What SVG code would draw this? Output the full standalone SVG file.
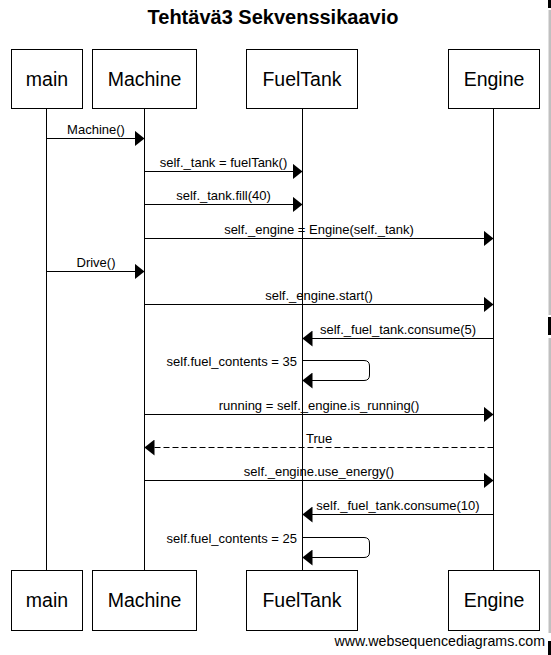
<svg xmlns="http://www.w3.org/2000/svg" width="551" height="655" viewBox="0 0 551 655">
<style>
.box{fill:#fff;stroke:#000;stroke-width:1}
.life{stroke:#000;stroke-width:1}
.plabel{font-family:"Liberation Sans",Arial,sans-serif;font-size:19.5px;text-anchor:middle;fill:#000}
.msg{stroke:#000;stroke-width:1;fill:none;marker-end:url(#ah)}
.dash{stroke-dasharray:6,3}
.mtext{font-family:"Liberation Sans",Arial,sans-serif;font-size:13px;fill:#000;text-anchor:middle}
.title{font-family:"Liberation Sans",Arial,sans-serif;font-size:20px;font-weight:bold;text-anchor:middle;fill:#000}
.foot{font-family:"Liberation Sans",Arial,sans-serif;font-size:14.2px;text-anchor:end;fill:#000}
</style>
<defs>
<marker id="ah" viewBox="0 0 10 16" refX="10" refY="8" markerWidth="10" markerHeight="16" orient="auto" markerUnits="userSpaceOnUse">
<path d="M0,0 L10,8 L0,16 Z" fill="#000"/>
</marker>
</defs>
<rect x="0" y="0" width="551" height="655" fill="#fff"/>
<text class="title" x="273" y="23.5">Tehtävä3 Sekvenssikaavio</text>

<g id="lifelines">
<line class="life" x1="46.5" y1="108.5" x2="46.5" y2="570.5"/>
<line class="life" x1="144.5" y1="108.5" x2="144.5" y2="570.5"/>
<line class="life" x1="302.5" y1="108.5" x2="302.5" y2="570.5"/>
<line class="life" x1="493.5" y1="108.5" x2="493.5" y2="570.5"/>
</g>

<g id="main">
<rect class="box" x="11.5" y="49.5" width="71" height="59"/>
<text class="plabel" x="47" y="86">main</text>
<rect class="box" x="11.5" y="570.5" width="71" height="60"/>
<text class="plabel" x="47" y="607">main</text>
</g>
<g id="Machine">
<rect class="box" x="92.5" y="49.5" width="104" height="59"/>
<text class="plabel" x="144.5" y="86">Machine</text>
<rect class="box" x="92.5" y="570.5" width="104" height="60"/>
<text class="plabel" x="144.5" y="607">Machine</text>
</g>
<g id="FuelTank">
<rect class="box" x="246.5" y="49.5" width="111" height="59"/>
<text class="plabel" x="302" y="86">FuelTank</text>
<rect class="box" x="246.5" y="570.5" width="111" height="60"/>
<text class="plabel" x="302" y="607">FuelTank</text>
</g>
<g id="Engine">
<rect class="box" x="448.5" y="49.5" width="91" height="59"/>
<text class="plabel" x="494" y="86">Engine</text>
<rect class="box" x="448.5" y="570.5" width="91" height="60"/>
<text class="plabel" x="494" y="607">Engine</text>
</g>

<g id="connectors">
<line class="msg" x1="46.5" y1="138.5" x2="144.5" y2="138.5"/>
<text class="mtext" x="96" y="133.5">Machine()</text>

<line class="msg" x1="144.5" y1="171.5" x2="302.5" y2="171.5"/>
<text class="mtext" x="223.5" y="166.5">self._tank = fuelTank()</text>

<line class="msg" x1="144.5" y1="204.5" x2="302.5" y2="204.5"/>
<text class="mtext" x="223.5" y="199.5">self._tank.fill(40)</text>

<line class="msg" x1="144.5" y1="238.5" x2="493.5" y2="238.5"/>
<text class="mtext" x="319" y="233.5">self._engine = Engine(self._tank)</text>

<line class="msg" x1="46.5" y1="271.5" x2="144.5" y2="271.5"/>
<text class="mtext" x="96" y="266.5">Drive()</text>

<line class="msg" x1="144.5" y1="304.5" x2="493.5" y2="304.5"/>
<text class="mtext" x="319" y="299.5">self._engine.start()</text>

<line class="msg" x1="493.5" y1="338.5" x2="302.5" y2="338.5"/>
<text class="mtext" x="398" y="333.5">self._fuel_tank.consume(5)</text>

<path class="msg" d="M302.5,360.5 H364 Q369.5,360.5 369.5,366 V375 Q369.5,380.5 364,380.5 H302.5"/>
<text class="mtext" x="297" y="366" style="text-anchor:end">self.fuel_contents = 35</text>

<line class="msg" x1="144.5" y1="414.5" x2="493.5" y2="414.5"/>
<text class="mtext" x="319" y="409.5">running = self._engine.is_running()</text>

<line class="msg dash" x1="493.5" y1="447.5" x2="144.5" y2="447.5"/>
<text class="mtext" x="306" y="442.5" style="text-anchor:start">True</text>

<line class="msg" x1="144.5" y1="480.5" x2="493.5" y2="480.5"/>
<text class="mtext" x="319" y="475.5">self._engine.use_energy()</text>

<line class="msg" x1="493.5" y1="514.5" x2="302.5" y2="514.5"/>
<text class="mtext" x="398" y="509.5">self._fuel_tank.consume(10)</text>

<path class="msg" d="M302.5,537.5 H364 Q369.5,537.5 369.5,543 V552 Q369.5,557.5 364,557.5 H302.5"/>
<text class="mtext" x="297" y="543" style="text-anchor:end">self.fuel_contents = 25</text>
</g>

<text class="foot" x="545" y="646">www.websequencediagrams.com</text>

<g id="edge">
<rect x="548.5" y="10" width="2.5" height="305" fill="#c0c0c0"/>
<rect x="548.5" y="338" width="2.5" height="295" fill="#c0c0c0"/>
<rect x="548" y="0" width="3" height="8" fill="#000"/>
<rect x="548" y="317" width="3" height="18" fill="#000"/>
<rect x="548" y="641" width="3" height="14" fill="#000"/>
</g>
</svg>
